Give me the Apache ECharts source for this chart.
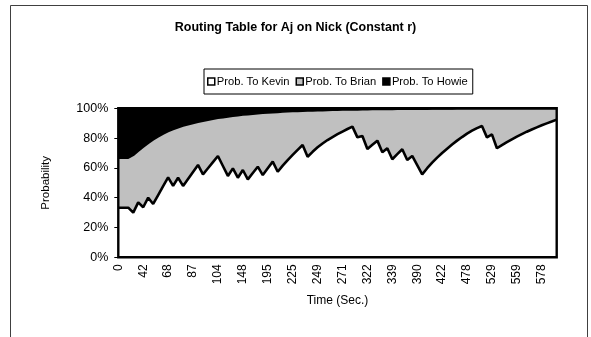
<!DOCTYPE html>
<html>
<head>
<meta charset="utf-8">
<script src="https://cdn.jsdelivr.net/npm/echarts@6/dist/echarts.min.js"></script>
<style>
  html, body { margin: 0; padding: 0; background: #fff; }
  #chart { width: 591px; height: 337px; }
</style>
</head>
<body>
<div id="chart"></div>
<script>
// Time labels shown along the x axis (one every 5 routing updates)
const timeTicks = ['0', '42', '68', '87', '104', '148', '195', '225', '249', '271',
  '322', '339', '390', '422', '478', '529', '559', '578'];

// Routing probabilities (%) from Aj towards each neighbour, per update
const probKevin = [
  33.3, 33.3, 33.3, 30.0, 36.9, 33.6, 40.0, 35.8, 41.8, 47.8,
  53.7, 47.9, 53.4, 47.9, 52.6, 57.3, 62.0, 55.7, 59.8, 63.9,
  68.0, 61.3, 54.6, 59.7, 53.4, 58.6, 52.3, 56.6, 60.8, 55.2,
  59.7, 64.2, 57.4, 61.5, 65.2, 68.7, 72.1, 75.4, 67.5, 70.8,
  73.8, 76.4, 78.7, 80.7, 82.6, 84.4, 86.1, 87.7, 80.5, 81.4,
  72.7, 75.5, 78.3, 70.5, 73.2, 65.8, 69.2, 72.5, 65.3, 68.0,
  61.9, 55.7, 59.8, 63.5, 66.9, 70.0, 72.9, 75.7, 78.3, 80.7,
  83.0, 85.0, 86.7, 88.1, 80.5, 82.5, 73.2, 75.3, 77.3, 79.2,
  81.0, 82.7, 84.3, 85.8, 87.2, 88.6, 89.9, 91.1, 92.4
];
const probBrian = [
  33.4, 33.4, 33.4, 38.5, 34.5, 40.5, 36.6, 43.1, 39.2, 35.1,
  30.8, 38.0, 33.7, 40.3, 36.5, 32.7, 28.8, 35.8, 32.4, 28.9,
  25.4, 32.6, 39.8, 35.1, 41.8, 37.0, 43.6, 39.6, 35.7, 41.6,
  37.3, 33.0, 40.0, 36.1, 32.6, 29.3, 26.0, 22.8, 30.8, 27.6,
  24.7, 22.2, 20.0, 18.1, 16.3, 14.6, 12.9, 11.4, 18.6, 17.8,
  26.5, 23.8, 21.0, 28.9, 26.2, 33.6, 30.3, 27.0, 34.2, 31.6,
  37.7, 43.9, 39.8, 36.2, 32.8, 29.7, 26.8, 24.0, 21.5, 19.1,
  16.8, 14.8, 13.1, 11.7, 19.3, 17.3, 26.7, 24.6, 22.6, 20.7,
  18.9, 17.2, 15.6, 14.1, 12.7, 11.3, 10.0, 8.8, 7.5
];
const probHowie = [
  33.3, 33.3, 33.3, 31.5, 28.6, 25.9, 23.4, 21.1, 19.0, 17.1,
  15.5, 14.1, 12.9, 11.8, 10.9, 10.0, 9.2, 8.5, 7.8, 7.2,
  6.6, 6.1, 5.6, 5.2, 4.8, 4.4, 4.1, 3.8, 3.5, 3.2,
  3.0, 2.8, 2.6, 2.4, 2.2, 2.0, 1.9, 1.8, 1.7, 1.6,
  1.5, 1.4, 1.3, 1.2, 1.1, 1.0, 1.0, 0.9, 0.9, 0.8,
  0.8, 0.7, 0.7, 0.6, 0.6, 0.6, 0.5, 0.5, 0.5, 0.4,
  0.4, 0.4, 0.4, 0.3, 0.3, 0.3, 0.3, 0.3, 0.2, 0.2,
  0.2, 0.2, 0.2, 0.2, 0.2, 0.2, 0.1, 0.1, 0.1, 0.1,
  0.1, 0.1, 0.1, 0.1, 0.1, 0.1, 0.1, 0.1, 0.1
];

const seriesNames = ['Prob. To Kevin', 'Prob. To Brian', 'Prob. To Howie'];
const seriesFills = ['#ffffff', '#c0c0c0', '#000000'];

// One category per update; only every fifth one carries a time label
const categories = probKevin.map((_, i) => (i % 5 === 0 ? timeTicks[i / 5] : ''));

const FONT = "'Liberation Sans', Arial, sans-serif";

function areaSeries(idx, values, z) {
  return {
    name: seriesNames[idx],
    type: 'line',
    stack: 'share',
    data: values,
    symbol: 'none',
    z: z,
    lineStyle: { color: '#000', width: idx === 0 ? 2.6 : 2 },
    areaStyle: { color: seriesFills[idx], opacity: 1 },
    itemStyle: { color: seriesFills[idx], borderColor: '#000', borderWidth: 1.5 },
    emphasis: { disabled: true },
    animation: false
  };
}

const chart = echarts.init(document.getElementById('chart'), null, { renderer: 'canvas' });
chart.setOption({
  backgroundColor: '#fff',
  animation: false,
  title: {
    text: 'Routing Table for Aj on Nick (Constant r)',
    left: 'center',
    top: 16,
    textStyle: { fontFamily: FONT, fontSize: 12.5, fontWeight: 'bold', color: '#000' }
  },
  legend: {
    left: 204,
    top: 69,
    padding: [7, 5, 7, 3],
    itemGap: 6,
    itemWidth: 7,
    itemHeight: 7,
    borderColor: '#000',
    borderWidth: 1,
    icon: 'rect',
    textStyle: { fontFamily: FONT, fontSize: 11.2, color: '#000', padding: [0, 0, 0, -3] },
    data: seriesNames.map((n, i) => ({
      name: n,
      itemStyle: { color: seriesFills[i], borderColor: '#000', borderWidth: 1.5 }
    }))
  },
  grid: {
    left: 118.3,
    right: 34.3,
    top: 108.3,
    bottom: 79.7,
    show: true,
    z: 10,
    backgroundColor: 'transparent',
    borderColor: '#000',
    borderWidth: 2.4
  },
  xAxis: {
    type: 'category',
    data: categories,
    boundaryGap: false,
    name: 'Time (Sec.)',
    nameLocation: 'middle',
    nameGap: 37,
    nameTextStyle: { fontFamily: FONT, fontSize: 12, color: '#000' },
    axisLine: { show: false },
    axisTick: { show: false },
    axisLabel: {
      interval: 0,
      rotate: 90,
      margin: 7,
      fontFamily: FONT,
      fontSize: 12,
      color: '#000'
    },
    splitLine: { show: false }
  },
  yAxis: {
    type: 'value',
    min: 0,
    max: 100,
    interval: 20,
    name: 'Probability',
    nameLocation: 'middle',
    nameGap: 66,
    nameTextStyle: { fontFamily: FONT, fontSize: 11.5, color: '#000' },
    axisLine: { show: true, lineStyle: { color: '#000', width: 1 } },
    axisTick: { show: true, length: 4, lineStyle: { color: '#000', width: 1 } },
    axisLabel: {
      formatter: '{value}%',
      margin: 10,
      fontFamily: FONT,
      fontSize: 12.5,
      color: '#000'
    },
    splitLine: { show: false }
  },
  graphic: [{
    type: 'rect',
    silent: true,
    shape: { x: 10.5, y: 5.5, width: 577, height: 345 },
    style: { fill: 'none', stroke: '#404040', lineWidth: 1 }
  }],
  series: [
    areaSeries(0, probKevin, 5),
    areaSeries(1, probBrian, 4),
    areaSeries(2, probHowie, 3)
  ]
});
</script>
</body>
</html>
